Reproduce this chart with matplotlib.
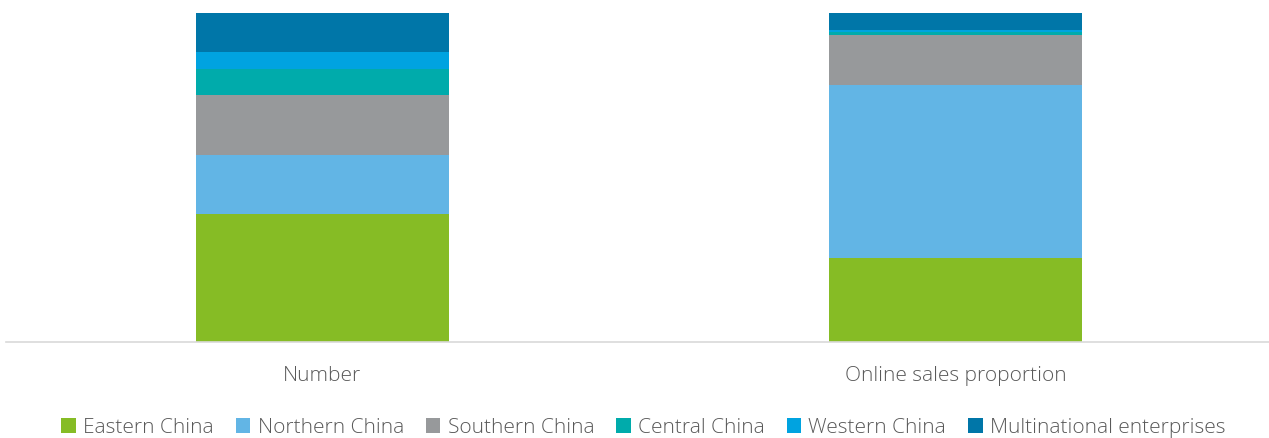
import matplotlib
matplotlib.use('Agg')
import matplotlib.pyplot as plt
from matplotlib.patches import Patch
import numpy as np

plt.rcParams['font.family'] = ['Open Sans', 'DejaVu Sans']

categories = ['Number', 'Online sales proportion']
series = ['Eastern China', 'Northern China', 'Southern China',
          'Central China', 'Western China', 'Multinational enterprises']
eastern = [38.9, 25.5]
northern = [17.9, 52.6]
southern = [18.2, 15.2]
central = [8.1, 0.8]
western = [4.9, 0.6]
multinational = [12.0, 5.3]
colors = ['#86bc25', '#62b5e5', '#97999b', '#00abab', '#00a3e0', '#0076a8']

values = [eastern, northern, southern, central, western, multinational]

fig = plt.figure(figsize=(12.69, 4.38), dpi=100)
ax = fig.add_axes([6 / 1269, 96 / 438, 1266 / 1269, 329 / 438])

x = np.arange(len(categories))
bottom = np.zeros(len(categories))
for vals, col in zip(values, colors):
    ax.bar(x, vals, width=0.4, bottom=bottom, color=col, edgecolor='none')
    bottom += np.array(vals)

ax.set_xlim(-0.5, 1.5)
ax.set_ylim(0, bottom.max())
ax.set_yticks([])
ax.set_xticks(x)
ax.set_xticklabels(categories, fontsize=15, color='#595959', fontweight='light')
ax.tick_params(axis='x', length=0, pad=17)
for s in ['top', 'right', 'left']:
    ax.spines[s].set_visible(False)
ax.spines['bottom'].set_color('#d9d9d9')
ax.spines['bottom'].set_linewidth(1.2)

handles = [Patch(facecolor=c, edgecolor='none') for c in colors]
fig.legend(handles, series, loc='center', bbox_to_anchor=(0.507, 10 / 438), ncol=6,
           frameon=False, labelcolor='#595959',
           prop={'size': 15, 'weight': 'light'},
           handlelength=0.7, handleheight=0.7, handletextpad=0.35, columnspacing=1.05)

fig.savefig('out.png', dpi=100, facecolor='white')
